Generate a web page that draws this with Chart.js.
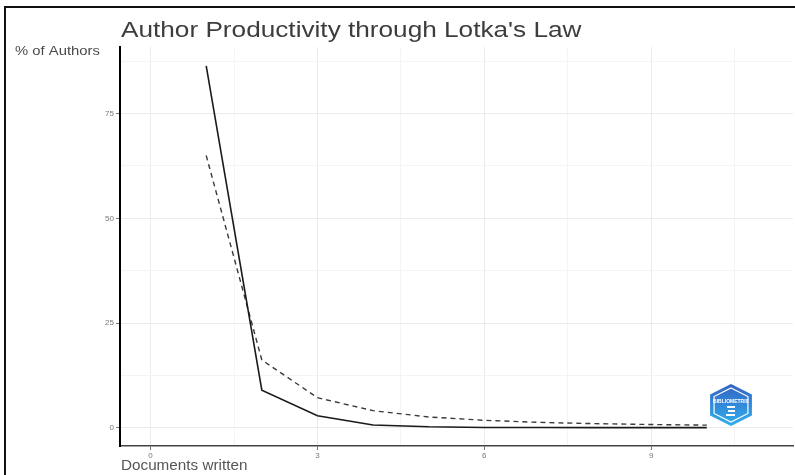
<!DOCTYPE html>
<html>
<head>
<meta charset="utf-8">
<script src="https://cdn.jsdelivr.net/npm/chart.js@4/dist/chart.umd.min.js"></script>
<style>
  body { margin: 0; background: #fff; }
  canvas { display: block; }
</style>
</head>
<body>
<canvas id="lotka" width="795" height="475"></canvas>
<script>
// data
var docsWritten = [1, 2, 3, 4, 5, 6, 7, 8, 9, 10];
var observed = [86.4, 9.0, 2.9, 0.7, 0.25, 0.1, 0.1, 0.05, 0.05, 0.05];
var theoretical = [65.0, 16.2, 7.2, 4.1, 2.6, 1.8, 1.3, 1.0, 0.8, 0.65];

var xTicks = [0, 1.5, 3, 4.5, 6, 7.5, 9, 10.5];   // majors labelled, halves are minor grid
var xLabelled = [0, 3, 6, 9];
var yTicks = [0, 12.5, 25, 37.5, 50, 62.5, 75, 87.5];
var yLabelled = [0, 25, 50, 75];

var titleText = "Author Productivity through Lotka's Law";
var yTitle = "% of Authors";
var xTitle = "Documents written";

function isMajor(list, v) {
    return list.indexOf(v) !== -1;
}

// stretched text, the reference is a little wider than tall
function wideText(ctx, txt, x, y, size, color, sx) {
    ctx.save();
    ctx.font = size + 'px "Liberation Sans", Arial, sans-serif';
    ctx.fillStyle = color;
    ctx.textBaseline = 'alphabetic';
    ctx.translate(x, y);
    ctx.scale(sx, 1);
    ctx.fillText(txt, 0, 0);
    ctx.restore();
}

function hexPath(ctx, cx, cy, r, sx) {
    ctx.beginPath();
    for (var i = 0; i < 6; i++) {
        var a = Math.PI / 180 * (60 * i - 90);
        var px = cx + r * Math.cos(a) * sx;
        var py = cy + r * Math.sin(a);
        if (i == 0) ctx.moveTo(px, py); else ctx.lineTo(px, py);
    }
    ctx.closePath();
}

var decor = {
    id: 'decor',
    afterDraw: function(chart) {
        var ctx = chart.ctx;
        // frame lines
        ctx.save();
        ctx.strokeStyle = '#111';
        ctx.lineWidth = 2;
        ctx.beginPath();
        ctx.moveTo(5, 475);
        ctx.lineTo(5, 7);
        ctx.lineTo(795, 7);
        ctx.stroke();
        ctx.restore();

        wideText(ctx, titleText, 121, 37, 22, '#3d3d3d', 1.19);
        wideText(ctx, yTitle, 15, 55, 13, '#4a4a4a', 1.14);
        wideText(ctx, xTitle, 121, 470, 14, '#555', 1.09);

        // logo
        var cx = 731, cy = 405;
        ctx.save();
        hexPath(ctx, cx, cy, 21, 1.15);
        var g = ctx.createLinearGradient(0, cy - 21, 0, cy + 21);
        g.addColorStop(0, '#3563c4');
        g.addColorStop(1, '#2fb0ee');
        ctx.fillStyle = g;
        ctx.fill();
        hexPath(ctx, cx, cy, 17, 1.15);
        ctx.strokeStyle = '#ffffff';
        ctx.lineWidth = 1.2;
        ctx.stroke();
        ctx.fillStyle = '#ffffff';
        ctx.font = 'bold 5px "Liberation Sans", Arial, sans-serif';
        ctx.textAlign = 'center';
        ctx.fillText('BIBLIOMETRIX', cx, cy - 2);
        ctx.fillRect(cx - 4, cy + 1, 8, 2);
        ctx.fillRect(cx - 3, cy + 5, 7, 2);
        ctx.fillRect(cx - 5, cy + 9, 9, 2);
        ctx.restore();
    }
};

var ctx = document.getElementById('lotka').getContext('2d');
new Chart(ctx, {
    type: 'line',
    data: {
        labels: docsWritten,
        datasets: [{
            label: 'Observed',
            data: docsWritten.map(function(d, i) { return {x: d, y: observed[i]}; }),
            borderColor: '#1a1a1a',
            borderWidth: 1.6,
            pointRadius: 0,
            tension: 0
        }, {
            label: 'Theoretical',
            data: docsWritten.map(function(d, i) { return {x: d, y: theoretical[i]}; }),
            borderColor: '#3a3a3a',
            borderWidth: 1.4,
            borderDash: [5, 4],
            pointRadius: 0,
            tension: 0
        }]
    },
    options: {
        responsive: false,
        animation: false,
        layout: { padding: { top: 47, left: 0, right: 2, bottom: 0 } },
        plugins: {
            legend: { display: false },
            title: { display: false },
            tooltip: { enabled: false }
        },
        scales: {
            x: {
                type: 'linear',
                min: -0.55,
                max: 11.55,
                afterBuildTicks: function(scale) {
                    scale.ticks = xTicks.map(function(v) { return {value: v}; });
                },
                afterFit: function(scale) { scale.height = 29; },
                border: { display: true, color: '#444', width: 1.5 },
                grid: {
                    color: function(c) { return isMajor(xLabelled, c.tick.value) ? '#ebebeb' : '#f4f4f4'; },
                    lineWidth: 1,
                    tickLength: 4,
                    tickColor: function(c) { return isMajor(xLabelled, c.tick.value) ? '#777' : 'rgba(0,0,0,0)'; }
                },
                ticks: {
                    autoSkip: false,
                    maxRotation: 0,
                    padding: 1,
                    color: '#777',
                    font: { size: 8, family: '"Liberation Sans", Arial, sans-serif' },
                    callback: function(v) { return isMajor(xLabelled, v) ? String(v) : ''; }
                }
            },
            y: {
                min: -4.33,
                max: 90.9,
                afterBuildTicks: function(scale) {
                    scale.ticks = yTicks.map(function(v) { return {value: v}; });
                },
                afterFit: function(scale) { scale.width = 120; },
                border: { display: true, color: '#000', width: 2 },
                grid: {
                    color: function(c) { return isMajor(yLabelled, c.tick.value) ? '#ebebeb' : '#f4f4f4'; },
                    lineWidth: 1,
                    tickLength: 4,
                    tickColor: function(c) { return isMajor(yLabelled, c.tick.value) ? '#777' : 'rgba(0,0,0,0)'; }
                },
                ticks: {
                    autoSkip: false,
                    padding: 2,
                    color: '#777',
                    font: { size: 8, family: '"Liberation Sans", Arial, sans-serif' },
                    callback: function(v) { return isMajor(yLabelled, v) ? String(v) : ''; }
                }
            }
        }
    },
    plugins: [decor]
});
</script>
</body>
</html>
